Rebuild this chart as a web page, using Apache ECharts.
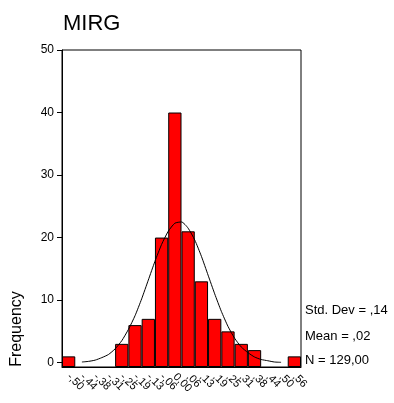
<!DOCTYPE html>
<html>
<head>
<meta charset="utf-8">
<script src="https://cdn.jsdelivr.net/npm/echarts@6/dist/echarts.min.js"></script>
<style>html,body{margin:0;padding:0;background:#fff}#c{width:394px;height:403px}</style>
</head>
<body>
<div id="c"></div>
<script>
var categories = ['-,50','-,44','-,38','-,31','-,25','-,19','-,13','-,06','0,00',',06',',13',',19',',25',',31',',38',',44',',50',',56'];
var frequencies = [1,0,0,0,3,6,7,20,40,21,13,7,5,3,2,0,0,1];
var yTicks = [0,10,20,30,40,50];
var curveX = [-0.4375,-0.40625,-0.375,-0.34375,-0.3125,-0.28125,-0.25,-0.21875,-0.1875,-0.15625,-0.125,-0.09375,-0.0625,-0.03125,0,0.03125,0.0625,0.09375,0.125,0.15625,0.1875,0.21875,0.25,0.28125,0.3125,0.34375,0.375,0.40625,0.4375,0.46875,0.5];
var curveY = [0.1,0.2,0.4,0.8,1.3,2.2,3.5,5.3,7.5,10.2,13.2,16.2,18.9,21.0,22.3,22.5,21.5,19.6,17.0,14.0,11.0,8.2,5.8,3.9,2.5,1.6,0.9,0.5,0.3,0.1,0.05];
var statLines = ['Std. Dev = ,14','Mean = ,02','N = 129,00'];
var titleText = 'MIRG';
var yName = 'Frequency';

var FONT = 'Liberation Sans, Arial, sans-serif';
var chart = echarts.init(document.getElementById('c'), null, {renderer:'canvas'});
var curveData = curveX.map(function(x,i){return [x, curveY[i]];});
var barData = frequencies.map(function(v){return v === 0 ? '-' : v;});
var statGraphics = statLines.map(function(t,i){
  return {type:'text', left:305, top:[304,330,354][i], style:{text:t, font:'13px ' + FONT, fill:'#000'}};
});
chart.setOption({
  animation:false,
  backgroundColor:'#fff',
  title:{text:titleText, left:58, top:8, textStyle:{fontFamily:FONT, fontSize:22, fontWeight:'normal', color:'#000'}},
  grid:{left:62, right:93, top:50, bottom:36, show:true, borderColor:'#000', borderWidth:1, backgroundColor:'transparent'},
  xAxis:[
    {type:'category', data:categories, boundaryGap:true,
     axisLine:{onZero:false, lineStyle:{color:'#000', width:1}},
     axisTick:{alignWithLabel:true, length:5, lineStyle:{color:'#000'}},
     axisLabel:{rotate:-45, interval:0, margin:8, fontFamily:FONT, fontSize:11, color:'#000'}},
    {type:'value', min:-0.53125, max:0.59375, show:false}
  ],
  yAxis:{type:'value', min:-0.7, max:50, startValue:-0.7,
    axisLine:{show:true, onZero:false, lineStyle:{color:'#000'}},
    axisTick:{show:true, length:5, customValues:yTicks, lineStyle:{color:'#000'}},
    axisLabel:{customValues:yTicks, margin:8, fontFamily:FONT, fontSize:12, color:'#000'},
    splitLine:{show:false}},
  series:[
    {type:'bar', data:barData, barCategoryGap:'0%', xAxisIndex:0,
     itemStyle:{color:'#ff0000', borderColor:'#000', borderWidth:1}},
    {type:'line', data:curveData, xAxisIndex:1, smooth:0.2, showSymbol:false, symbol:'none',
     lineStyle:{color:'#000', width:1}, z:5}
  ],
  graphic:[
    {type:'text', x:17, y:329, rotation:Math.PI/2, style:{text:yName, font:'16px ' + FONT, fill:'#000', textAlign:'center', textVerticalAlign:'middle'}}
  ].concat(statGraphics)
});
</script>
</body>
</html>
